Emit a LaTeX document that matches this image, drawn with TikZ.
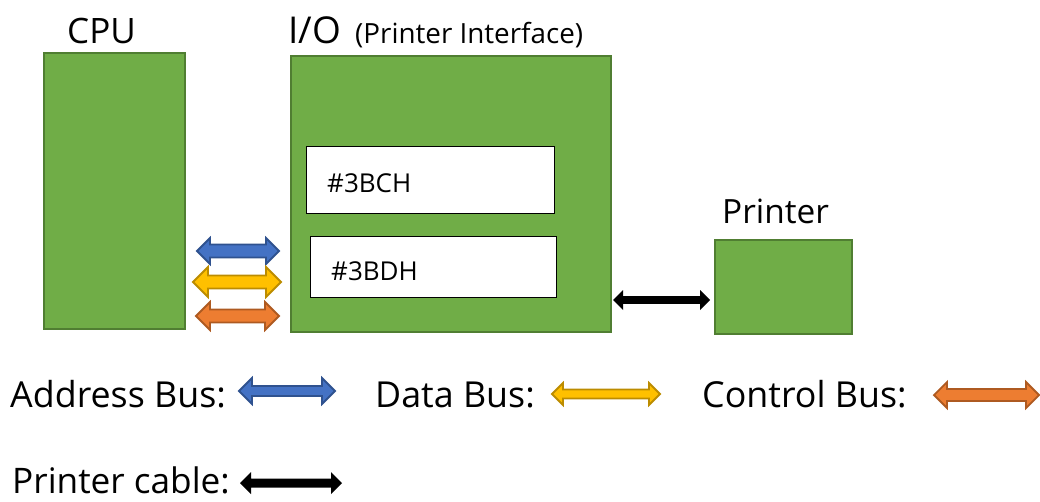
\documentclass[tikz,border=0pt]{standalone}
\usepackage{fontspec}
\setmainfont{Open Sans}
\definecolor{boxgreen}{HTML}{70AD47}
\definecolor{boxgreenline}{HTML}{507E32}
\definecolor{busblue}{HTML}{4472C4}
\definecolor{busblueline}{HTML}{2F528F}
\definecolor{busyellow}{HTML}{FFC000}
\definecolor{busyellowline}{HTML}{BC8C00}
\definecolor{busorange}{HTML}{ED7D31}
\definecolor{busorangeline}{HTML}{AE5A21}
% double-headed block arrow: style, x-left, x-right, y-centre, body half-height, head half-height
\newcommand{\blockarrow}[6]{%
  \draw[#1] (#2,#4) -- (#2+#6,#4-#6) -- (#2+#6,#4-#5) -- (#3-#6,#4-#5)
    -- (#3-#6,#4-#6) -- (#3,#4) -- (#3-#6,#4+#6) -- (#3-#6,#4+#5)
    -- (#2+#6,#4+#5) -- (#2+#6,#4+#6) -- cycle;}
\begin{document}
\begin{tikzpicture}[x=1pt,y=-1pt,
  unit/.style={draw=boxgreenline,fill=boxgreen,line width=2pt},
  reg/.style={draw=black,fill=white,line width=1.3pt},
  lbl/.style={anchor=base west,inner sep=0pt,text=black},
  addr/.style={draw=busblueline,fill=busblue,line width=1.8pt,line join=miter},
  data/.style={draw=busyellowline,fill=busyellow,line width=1.8pt,line join=miter},
  ctrl/.style={draw=busorangeline,fill=busorange,line width=1.8pt,line join=miter},
  cable/.style={fill=black,draw=none}]
\useasboundingbox (0,0) rectangle (1040,501);

% units
\node[unit,minimum width=141pt,minimum height=276pt,anchor=north west] (cpu) at (43,52) {};
\node[unit,minimum width=320pt,minimum height=276pt,anchor=north west] (io) at (290,55) {};
\node[unit,minimum width=137pt,minimum height=94pt,anchor=north west] (printer) at (714,239) {};

% registers inside the interface
\node[reg,minimum width=248pt,minimum height=67pt,anchor=north west] (r1) at (306,146) {};
\node[reg,minimum width=246pt,minimum height=61pt,anchor=north west] (r2) at (310,236) {};
\node[lbl,font=\fontsize{26}{30}\selectfont] (r1t) at (327,192) {\#3BCH};
\node[lbl,font=\fontsize{26}{30}\selectfont] (r2t) at (331,280) {\#3BDH};

% titles
\node[lbl,font=\fontsize{35}{40}\selectfont] (cput) at (67,43) {CPU};
\node[lbl,font=\fontsize{37}{42}\selectfont] (iot) at (288,43) {I/O};
\node[lbl,font=\fontsize{27.8}{32}\selectfont] (iosub) at (355,43) {(Printer Interface)};
\node[lbl,font=\fontsize{33.4}{38}\selectfont] (prt) at (722,223) {Printer};

% buses between CPU and interface
\blockarrow{addr}{197}{279}{251}{6.5}{13}
\blockarrow{data}{193}{281}{282}{6.5}{15}
\blockarrow{ctrl}{196}{279}{316}{6.5}{14}

% printer cable
\blockarrow{cable}{613}{710}{300}{3.8}{10}

% legend
\node[lbl,font=\fontsize{35.8}{40}\selectfont] (la) at (10,407) {Address Bus:};
\blockarrow{addr}{239}{335}{391}{5}{13}
\node[lbl,font=\fontsize{35.8}{40}\selectfont] (ld) at (375,407) {Data Bus:};
\blockarrow{data}{552}{660}{394}{4.5}{11}
\node[lbl,font=\fontsize{35.8}{40}\selectfont] (lc) at (702,407) {Control Bus:};
\blockarrow{ctrl}{934}{1039}{395}{6}{13}
\node[lbl,font=\fontsize{35.2}{40}\selectfont] (lp) at (12,493) {Printer cable:};
\blockarrow{cable}{240}{342}{483}{4.5}{11}
\end{tikzpicture}
\end{document}
